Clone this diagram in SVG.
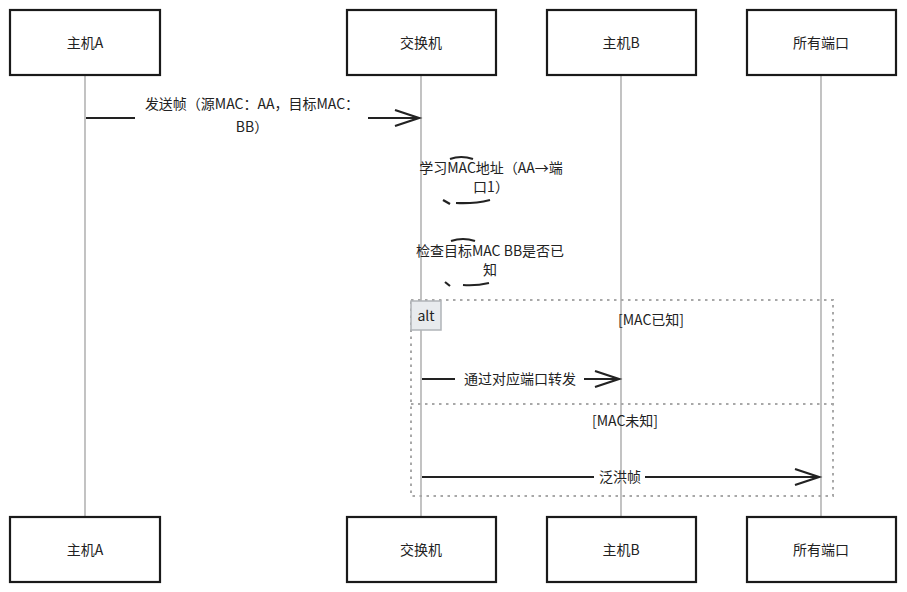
<svg xmlns="http://www.w3.org/2000/svg" width="907" height="592" viewBox="0 0 907 592">
<defs>
<style>
.box{fill:#fff;stroke:#1a1a1a;stroke-width:2.2}
.life{stroke:#9a9a9a;stroke-width:1.2;fill:none}
.t{font-family:"Noto Sans CJK SC","Liberation Sans",sans-serif;font-size:14px;fill:#222;text-anchor:middle}
.msg{stroke:#222;stroke-width:2.2;fill:none}
.frame{fill:none;stroke:#a8a8a8;stroke-width:2;stroke-dasharray:2.5 4.5}
</style>
<marker id="arr" markerWidth="30" markerHeight="20" refX="26" refY="10" orient="auto" markerUnits="userSpaceOnUse">
<path d="M2,2 L26,10 L2,18" fill="none" stroke="#222" stroke-width="2.2"/>
</marker>
</defs>
<rect width="907" height="592" fill="#fff"/>
<g id="lifelines">
<line class="life" x1="85" y1="75" x2="85" y2="517"/>
<line class="life" x1="421" y1="75" x2="421" y2="517"/>
<line class="life" x1="621" y1="75" x2="621" y2="517"/>
<line class="life" x1="821" y1="75" x2="821" y2="517"/>
</g>
<g id="alt-frame">
<rect class="frame" x="411" y="300" width="422" height="196"/>
<line class="frame" x1="411" y1="404" x2="833" y2="404"/>
<rect x="411" y="301" width="30" height="29" fill="#e8ebee" stroke="#b0b4b8" stroke-width="1.5"/>
<text class="t" x="426" y="321">alt</text>
<text class="t" x="651" y="325">[MAC已知]</text>
<text class="t" x="625" y="426">[MAC未知]</text>
</g>
<g id="hostA-top"><rect class="box" x="10" y="10" width="150" height="65"/><text class="t" x="85" y="48">主机A</text></g>
<g id="switch-top"><rect class="box" x="347" y="10" width="149" height="65"/><text class="t" x="421" y="48">交换机</text></g>
<g id="hostB-top"><rect class="box" x="547" y="10" width="149" height="65"/><text class="t" x="621" y="48">主机B</text></g>
<g id="ports-top"><rect class="box" x="747" y="10" width="149" height="65"/><text class="t" x="821" y="48">所有端口</text></g>
<g id="hostA-bottom"><rect class="box" x="10" y="517" width="150" height="65"/><text class="t" x="85" y="555">主机A</text></g>
<g id="switch-bottom"><rect class="box" x="347" y="517" width="149" height="65"/><text class="t" x="421" y="555">交换机</text></g>
<g id="hostB-bottom"><rect class="box" x="547" y="517" width="149" height="65"/><text class="t" x="621" y="555">主机B</text></g>
<g id="ports-bottom"><rect class="box" x="747" y="517" width="149" height="65"/><text class="t" x="821" y="555">所有端口</text></g>
<g id="connectors">
<line class="msg" x1="86" y1="118" x2="135" y2="118" stroke-width="3.2"/>
<line class="msg" x1="368" y1="118" x2="419" y2="118" marker-end="url(#arr)"/>
<text class="t" x="252" y="109">发送帧（源MAC：AA，目标MAC：</text>
<text class="t" x="252" y="132">BB）</text>
<text class="t" x="491" y="173">学习MAC地址（AA→端</text>
<text class="t" x="491" y="192">口1）</text>
<path d="M450,159 Q461,155 473,159" class="msg" stroke-width="1.5"/>
<path d="M443,200 L450,204" class="msg" stroke-width="1.5"/>
<path d="M456,203 Q474,204 490,200" class="msg" stroke-width="2"/>
<text class="t" x="490" y="256">检查目标MAC BB是否已</text>
<text class="t" x="490" y="275">知</text>
<path d="M451,241 Q463,237 475,241" class="msg" stroke-width="1.5"/>
<path d="M445,282 L450,286" class="msg" stroke-width="1.5"/>
<path d="M463,285 Q476,286 489,283" class="msg" stroke-width="2"/>
<line class="msg" x1="422" y1="379" x2="455" y2="379"/>
<line class="msg" x1="584" y1="379" x2="619" y2="379" marker-end="url(#arr)"/>
<text class="t" x="520" y="384">通过对应端口转发</text>
<line class="msg" x1="422" y1="477" x2="594" y2="477"/>
<line class="msg" x1="645" y1="477" x2="819" y2="477" marker-end="url(#arr)"/>
<text class="t" x="620" y="482">泛洪帧</text>
</g>
</svg>
